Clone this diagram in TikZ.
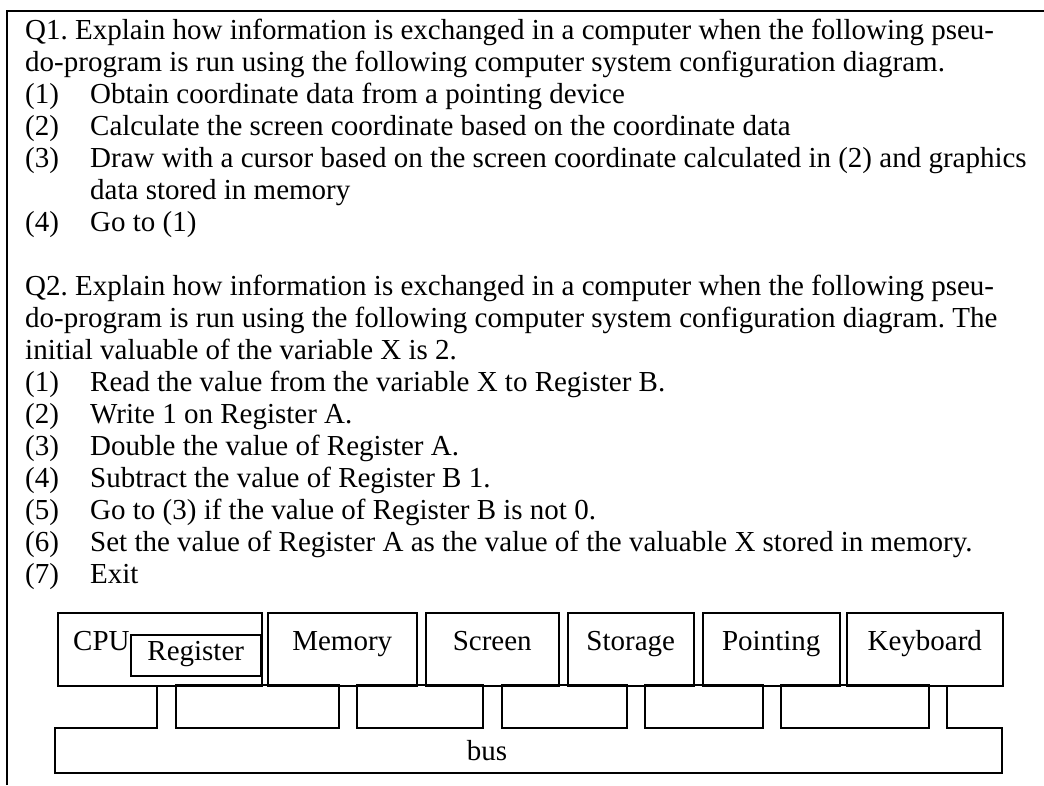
\documentclass[tikz,border=0pt]{standalone}
\usepackage{fontspec}
\setmainfont{Liberation Serif}
\usepackage{tikz}
\usetikzlibrary{calc}
\frenchspacing

\begin{document}
\begin{tikzpicture}[x=1pt,y=-1pt,
  every node/.style={inner sep=0pt, font=\fontsize{29}{32}\selectfont},
  unit/.style={draw, line width=1.5pt, anchor=north west, minimum height=73pt},
  slotline/.style={line width=1.5pt}]
\useasboundingbox (0,0) rectangle (1044,785);
\draw[line width=2pt] (7,785) -- (7,11) -- (1044,11);
\node[anchor=base west] (questions) at (25,39) {%
\begin{tabular}[t]{@{}p{65pt}@{}l@{}}
\multicolumn{2}{@{}l@{}}{Q1. Explain how information is exchanged in a computer when the following pseu-}\\
\multicolumn{2}{@{}l@{}}{do-program is run using the following computer system configuration diagram.}\\
(1) & Obtain coordinate data from a pointing device\\
(2) & Calculate the screen coordinate based on the coordinate data\\
(3) & Draw with a cursor based on the screen coordinate calculated in (2) and graphics\\
    & data stored in memory\\
(4) & Go to (1)\\
    & \\
\multicolumn{2}{@{}l@{}}{Q2. Explain how information is exchanged in a computer when the following pseu-}\\
\multicolumn{2}{@{}l@{}}{do-program is run using the following computer system configuration diagram. The}\\
\multicolumn{2}{@{}l@{}}{initial valuable of the variable X is 2.}\\
(1) & Read the value from the variable X to Register B.\\
(2) & Write 1 on Register A.\\
(3) & Double the value of Register A.\\
(4) & Subtract the value of Register B 1.\\
(5) & Go to (3) if the value of Register B is not 0.\\
(6) & Set the value of Register A as the value of the valuable X stored in memory.\\
(7) & Exit
\end{tabular}};

\node[unit, minimum width=204pt] (cpu) at (57,612) {};
\node[anchor=base west] (cpulabel) at (73,650) {CPU};
\node[unit, minimum width=130pt, minimum height=41pt] (reg) at (130,634) {};
\node[anchor=base] (reglabel) at (reg.center |- 0,660) {Register};
\foreach \nm/\xa/\xb/\txt in {mem/267/416/Memory, scr/425/558/Screen, sto/567/693/Storage,
    pnt/702/839/Pointing, key/846/1002/Keyboard}{
  \node[unit, minimum width=\xb pt-\xa pt] (\nm) at (\xa,612) {};
  \node[anchor=base] (\nm label) at (\nm.north |- 0,650) {\txt};
}
\foreach \xa/\xb in {176/339, 357/483, 502/627, 645/763, 781/929}
  \draw[slotline] (\xa,685) rectangle (\xb,728);
\draw[slotline] (157,685) -- (157,728) -- (55,728) -- (55,773) -- (1002,773) -- (1002,728) -- (947,728) -- (947,685);
\node[anchor=base] (bus) at (487,760) {bus};
\end{tikzpicture}
\end{document}
